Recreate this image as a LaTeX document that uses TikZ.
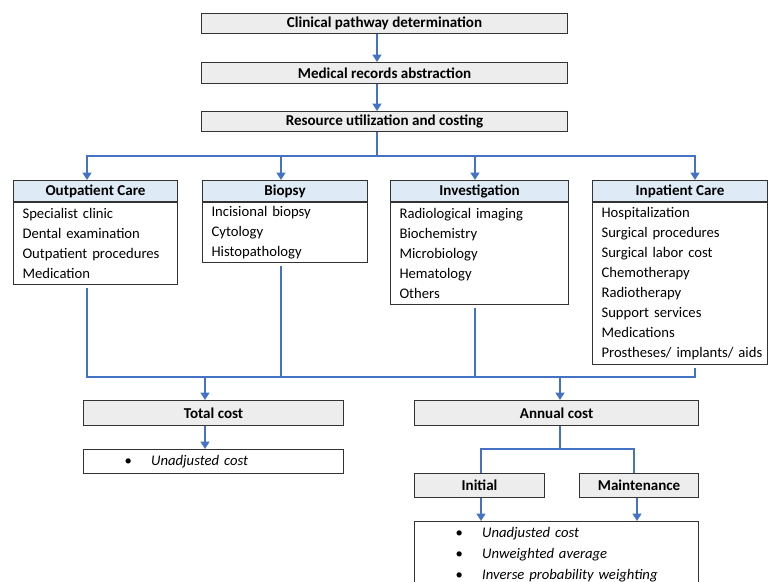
\documentclass[tikz,border=0pt]{standalone}
\usepackage{fontspec}
\setmainfont{Carlito}
\usetikzlibrary{arrows.meta}

\definecolor{flowblue}{HTML}{4472C4}
\definecolor{boxgray}{HTML}{EDEDED}
\definecolor{headblue}{HTML}{DEEBF7}
\newcommand{\pxu}{0.75pt}
\newcommand{\costitem}[1]{\hspace*{27pt}\makebox[20pt][l]{\textbullet}\textit{#1}}

\tikzset{
  stepbox/.style 2 args={draw=black!80, line width=0.8pt, fill=boxgray,
    font=\fontsize{11.3pt}{15pt}\selectfont\bfseries,
    anchor=north west, inner sep=0pt, minimum width={#1*\pxu}, minimum height={#2*\pxu}},
  headbox/.style={draw=black!80, line width=0.8pt, fill=headblue,
    font=\fontsize{11.3pt}{15pt}\selectfont\bfseries,
    anchor=north west, inner sep=0pt, minimum width={#1*\pxu}, minimum height={21*\pxu}},
  bodybox/.style 2 args={draw=black!80, line width=0.8pt, fill=white, anchor=north west,
    align=left, inner xsep={9*\pxu}, inner ysep=0pt, text width={(#1-18)*\pxu},
    minimum height={#2*\pxu}},
  listbox/.style={draw=black!80, line width=0.8pt, fill=white, anchor=north west,
    align=left, inner xsep={5*\pxu}, text width={(#1-10)*\pxu}},
  flow/.style={draw=flowblue, line width=1.5pt},
  arr/.style={flow, -{Triangle[length=5.5pt, width=6.5pt]}}
}

\begin{document}
\begin{tikzpicture}[x=0.75pt, y=-0.75pt, font=\fontsize{11pt}{15pt}\selectfont]
  \useasboundingbox (0,0) rectangle (768,582);
  \clip (0,0) rectangle (768,582);

  % top chain
  \node[stepbox={366}{20}] (pathway) at (201,13) {Clinical pathway determination};
  \node[stepbox={366}{21}] (records) at (201,62) {Medical records abstraction};
  \node[stepbox={366}{20}] (resource) at (201,111) {Resource utilization and costing};

  % cost categories
  \node[headbox=164] (opHead) at (13,180) {Outpatient Care};
  \node[bodybox={164}{82}] (opBody) at (opHead.south west)
    {Specialist clinic\\Dental examination\\Outpatient procedures\\Medication};
  \node[headbox=165] (bxHead) at (202,180) {Biopsy};
  \node[bodybox={165}{60}] (bxBody) at (bxHead.south west)
    {Incisional biopsy\\Cytology\\Histopathology};
  \node[headbox=178] (invHead) at (390,180) {Investigation};
  \node[bodybox={178}{102}] (invBody) at (invHead.south west)
    {Radiological imaging\\Biochemistry\\Microbiology\\Hematology\\Others};
  \node[headbox=175] (ipHead) at (592,180) {Inpatient Care};
  \node[bodybox={175}{162}] (ipBody) at (ipHead.south west)
    {Hospitalization\\Surgical procedures\\Surgical labor cost\\Chemotherapy\\Radiotherapy\\Support services\\Medications\\\mbox{Prostheses/ implants/ aids}};

  % outcomes
  \node[stepbox={260}{25}] (total) at (83,400) {Total cost};
  \node[listbox=260, minimum height={24*\pxu}, inner ysep=0pt] (totalList) at (83,449)
    {\costitem{Unadjusted cost}};
  \node[stepbox={284}{25}] (annual) at (414,400) {Annual cost};
  \node[stepbox={130}{24}] (initial) at (414,473) {Initial};
  \node[stepbox={119}{24}] (maint) at (579,473) {Maintenance};
  \node[listbox=284, inner ysep=4pt, font=\fontsize{11pt}{15.75pt}\selectfont] (annualList) at (414,521)
    {\costitem{Unadjusted cost}\\\costitem{Unweighted average}\\\costitem{Inverse probability weighting}\\[6pt]};

  % connectors
  \coordinate (spine) at (377,156);
  \coordinate (merge) at (0,377);
  \coordinate (split) at (560,449);
  \draw[arr] (pathway.south -| spine) -- (records.north -| spine);
  \draw[arr] (records.south -| spine) -- (resource.north -| spine);
  \draw[flow] (resource.south -| spine) -- (spine);
  \draw[flow, line cap=rect] (spine -| 87,0) -- (spine -| 695,0);
  \foreach \n/\x in {opHead/87, bxHead/281, invHead/475, ipHead/695}
    \draw[arr] (spine -| \x,0) -- (\n.north -| \x,0);

  \draw[flow, shorten <=2.5pt] (opBody.south -| 87,0) -- (merge -| 87,0)
    -- (merge -| 695,0) -- ([yshift=-2.5pt]ipBody.south -| 695,0);
  \foreach \n/\x in {bxBody/281, invBody/475}
    \draw[flow, shorten <=2.5pt] (\n.south -| \x,0) -- (merge -| \x,0);
  \draw[arr] (merge -| 205,0) -- (total.north -| 205,0);
  \draw[arr] (merge -| 560,0) -- (annual.north -| 560,0);
  \draw[arr] (total.south -| 205,0) -- (totalList.north -| 205,0);

  \draw[flow] (annual.south -| split) -- (split);
  \draw[flow] (initial.north -| 481,0) |- (split) -| (maint.north -| 634,0);
  \draw[arr] (initial.south -| 481,0) -- (annualList.north -| 481,0);
  \draw[arr] (maint.south -| 637,0) -- (annualList.north -| 637,0);
\end{tikzpicture}
\end{document}
